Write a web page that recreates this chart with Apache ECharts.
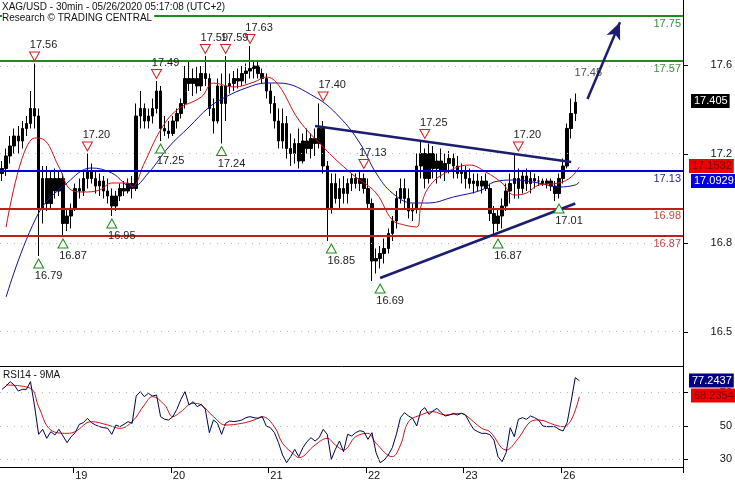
<!DOCTYPE html>
<html><head><meta charset="utf-8">
<script src="https://cdn.jsdelivr.net/npm/echarts@6/dist/echarts.min.js"></script>
<style>html,body{margin:0;padding:0;background:#fff}#c{width:735px;height:480px}</style>
</head><body><div id="c"></div>
<script>
// ---- categories (hourly slots) ----
const dayLabels = ['18','19','20','21','22','23','26',''];
const firstHour = 6;
const slotCount = 168;
const categories = Array.from({length: slotCount}, (_, i) => {
  const h = i + firstHour;
  return dayLabels[Math.floor(h / 24)] + ' ' + String(h % 24).padStart(2, '0') + ':00';
});

// ---- price bars: [open, close, low, high] ----
const priceBars = [
[17.12,17.14,17.09,17.17],[17.14,17.19,17.11,17.22],[17.19,17.23,17.16,17.27],[17.23,17.27,17.2,17.3],
[17.27,17.25,17.2,17.31],[17.25,17.3,17.22,17.33],[17.3,17.32,17.27,17.35],[17.32,17.38,17.3,17.45],
[17.38,17.35,17.3,17.56],[17.35,16.98,16.79,17.38],[16.98,17.1,16.92,17.15],[17.1,17.0,16.97,17.15],
[17.0,17.1,16.98,17.13],[17.1,17.05,17.02,17.14],[17.05,17.1,17.03,17.13],[17.1,16.92,16.87,17.12],
[16.92,16.95,16.89,16.98],[16.95,16.98,16.9,17.0],[16.98,17.06,16.97,17.08],[17.06,17.05,17.02,17.1],
[17.05,17.1,17.03,17.13],[17.1,17.13,17.06,17.2],[17.13,17.1,17.08,17.16],[17.1,17.07,17.04,17.13],
[17.07,17.09,17.03,17.12],[17.09,17.05,17.02,17.11],[17.05,17.03,17.0,17.1],[17.03,16.99,16.95,17.06],
[16.99,17.03,16.97,17.05],[17.03,17.06,17.01,17.08],[17.06,17.05,17.03,17.09],[17.05,17.08,17.04,17.1],
[17.08,17.06,17.02,17.11],[17.06,17.35,17.05,17.4],[17.35,17.38,17.3,17.45],[17.38,17.33,17.3,17.4],
[17.33,17.35,17.3,17.38],[17.35,17.38,17.32,17.42],[17.38,17.45,17.36,17.49],[17.45,17.3,17.25,17.47],
[17.3,17.29,17.27,17.35],[17.29,17.28,17.26,17.33],[17.28,17.33,17.27,17.35],[17.33,17.36,17.3,17.38],
[17.36,17.4,17.34,17.42],[17.4,17.5,17.38,17.55],[17.5,17.48,17.45,17.57],[17.48,17.5,17.43,17.54],
[17.5,17.47,17.44,17.55],[17.47,17.52,17.45,17.55],[17.52,17.5,17.47,17.59],[17.5,17.38,17.35,17.52],
[17.38,17.33,17.28,17.42],[17.33,17.47,17.32,17.5],[17.47,17.4,17.24,17.52],[17.4,17.47,17.33,17.59],
[17.47,17.48,17.44,17.52],[17.48,17.5,17.45,17.53],[17.5,17.49,17.46,17.54],[17.49,17.52,17.47,17.55],
[17.52,17.53,17.48,17.56],[17.53,17.54,17.5,17.63],[17.54,17.55,17.5,17.57],[17.55,17.52,17.5,17.57],
[17.52,17.5,17.48,17.54],[17.5,17.45,17.42,17.52],[17.45,17.4,17.36,17.48],[17.4,17.33,17.3,17.43],
[17.33,17.25,17.22,17.38],[17.25,17.32,17.22,17.38],[17.32,17.22,17.18,17.35],[17.22,17.2,17.15,17.28],
[17.2,17.24,17.16,17.26],[17.24,17.17,17.14,17.3],[17.17,17.25,17.16,17.28],[17.25,17.22,17.2,17.3],
[17.22,17.26,17.18,17.28],[17.26,17.24,17.19,17.3],[17.24,17.3,17.22,17.4],[17.3,17.15,17.12,17.33],
[17.15,16.98,16.85,17.17],[16.98,17.08,16.96,17.12],[17.08,17.02,17.0,17.12],[17.02,17.06,16.98,17.1],
[17.06,17.04,17.0,17.11],[17.04,17.08,17.0,17.1],[17.08,17.1,17.05,17.12],[17.1,17.08,17.06,17.12],
[17.08,17.1,17.05,17.13],[17.1,17.06,17.04,17.12],[17.06,17.0,16.98,17.1],[17.0,16.77,16.69,17.02],
[16.77,16.78,16.72,16.82],[16.78,16.8,16.74,16.83],[16.8,16.82,16.76,16.86],[16.82,16.88,16.8,16.9],
[16.88,16.93,16.85,16.95],[16.93,17.02,16.9,17.05],[17.02,17.06,17.0,17.1],[17.06,17.02,16.98,17.1],
[17.02,16.97,16.94,17.06],[16.97,16.98,16.93,17.0],[16.98,17.15,16.96,17.2],[17.15,17.2,17.1,17.25],
[17.2,17.1,17.06,17.22],[17.1,17.2,17.08,17.24],[17.2,17.14,17.1,17.23],[17.14,17.17,17.08,17.2],
[17.17,17.13,17.1,17.22],[17.13,17.16,17.09,17.2],[17.16,17.18,17.12,17.21],[17.18,17.15,17.1,17.2],
[17.15,17.12,17.1,17.19],[17.12,17.13,17.08,17.16],[17.13,17.1,17.06,17.15],[17.1,17.08,17.06,17.14],
[17.08,17.09,17.04,17.12],[17.09,17.07,17.05,17.12],[17.07,17.09,17.04,17.11],[17.09,17.06,17.05,17.12],
[17.06,16.96,16.93,17.08],[16.96,16.92,16.87,16.99],[16.92,16.95,16.89,16.98],[16.95,16.99,16.9,17.02],
[16.99,17.05,16.97,17.08],[17.05,17.08,17.0,17.12],[17.08,17.1,17.02,17.2],[17.1,17.06,17.02,17.14],
[17.06,17.11,17.04,17.13],[17.11,17.08,17.05,17.14],[17.08,17.1,17.04,17.13],[17.1,17.09,17.06,17.12],
[17.09,17.09,17.07,17.11],[17.09,17.08,17.07,17.1],[17.08,17.09,17.06,17.1],[17.09,17.07,17.05,17.1],
[17.07,17.04,17.01,17.09],[17.04,17.1,17.02,17.12],[17.1,17.15,17.08,17.18],[17.15,17.3,17.14,17.32],
[17.3,17.36,17.26,17.42],[17.36,17.405,17.33,17.44]
];

// ---- moving averages on price: [slot, value] ----
const fastMA = [[1,16.906],[8,17.262],[10,17.258],[14,17.146],[17,17.054],[20,17.046],[24,17.054],[27,17.082],
[31,17.082],[32,17.066],[35,17.162],[39,17.294],[43,17.374],[49,17.426],[52,17.482],[57,17.466],[62,17.486],
[65,17.506],[68,17.474],[73,17.334],[79,17.226],[83,17.162],[87,17.106],[92,17.042],[96,16.934],[99,16.914],
[102,16.906],[103,16.986],[105,17.066],[109,17.122],[115,17.154],[119,17.126],[123,17.082],[126,17.034],
[129,17.042],[132,17.074],[137,17.082],[140,17.106],[142,17.146]];
const slowMA = [[1,16.626],[9,16.962],[16,17.082],[22,17.142],[27,17.122],[32,17.066],[36,17.122],[41,17.226],
[46,17.306],[51,17.386],[55,17.426],[60,17.462],[65,17.482],[68,17.482],[77,17.426],[83,17.346],[88,17.242],
[92,17.122],[96,17.042],[101,17.002],[105,17.002],[111,17.026],[118,17.054],[121,17.086],[126,17.094],
[132,17.082],[137,17.066],[141,17.074],[142,17.086]];

// ---- RSI14 and its 9MA ----
const rsi = [72,74,76.6,74.6,71,72,72,76.6,62,45,48,42.6,46.6,44.6,48,44,40,43.6,46,51,52,54.6,52,50.6,49.6,49,48.6,45,
50.6,49.6,51,52.6,51.6,68,70.6,67.6,69.6,68,68.6,55.6,54,53.6,55.6,60,66,70.6,62.6,64.6,61.6,63,60,46,53.6,51.6,45,
51.6,53,52.6,53,53.6,55,55.6,55,54.6,55.6,50,49,46,40,32.6,28,31.6,36,31.6,37,40.6,43,41,43,48,45,30,36,41,34.6,45,
44,46,47.2,46.6,42,46,34,28,29.6,32.6,37,45,55,58,56,54.6,50,59,61,57,59,60.6,58,56,56.6,57.6,56.6,57.6,56.6,52,48,
46.6,45.6,45.6,44.8,41.6,31.6,28.6,34,49,43.6,54,55,54,56,55,53.6,50,49.6,49.6,49.6,48,47,52,65,79,77.2];
const rsiMA = [[1,74.6],[7,72.6],[9,61.6],[12,47.6],[16,45.6],[18,46.6],[22,52.6],[26,50.6],[29,48.6],[32,52.6],
[35,62.6],[37,67.6],[40,62.6],[42,55.6],[44,58.6],[47,63.6],[49,62.6],[52,55.6],[55,50.6],[59,51.6],[62,53.6],
[64,55.6],[67,49.6],[69,39.6],[72,32.6],[73,31],[77,38.6],[80,42.6],[82,38.6],[84,35.6],[87,43.6],[90,45.6],
[92,39.6],[96,31.6],[98,38.6],[100,52.6],[103,56.6],[106,58.6],[109,56.6],[113,57.6],[114,56.6],[118,48.6],
[120,46.6],[124,35.6],[127,42.6],[130,52.6],[132,53.6],[136,50.6],[138,49.6],[140,53.6],[142,67.6]];

// ---- levels, trendlines, annotations ----
const resistanceLevels = [17.75, 17.57];
const pivotLevels = [17.13];
const supportLevels = [16.98, 16.87];
const downTrend = [[77, 17.31], [140, 17.166]];
const upTrend = [[93, 16.702], [141, 17.0]];
const targetArrow = [[144, 17.418], [152, 17.725]];
const highSlots = [8, 21, 38, 50, 55, 61, 79, 89, 104, 127];
const highLabels = ['17.56','17.20','17.49','17.59','17.59','17.63','17.40','17.13','17.25','17.20'];
const targetSlots = [142];
const targetLabels = ['17.45'];
const lowSlots = [9, 15, 27, 39, 54, 81, 93, 122, 137];
const lowLabels = ['16.79','16.87','16.95','17.25','17.24','16.85','16.69','16.87','17.01'];
const priceTickValues = [17.554, 17.198, 16.842, 16.486];
const priceTickLabels = ['17.6', '17.2', '16.8', '16.5'];
const rsiTickValues = [70, 50, 30];
const priceTags = [17.405, 17.1532, 17.0929];
const rsiTags = [77.2437, 68.2354];

const FONT = 'Liberation Sans, Arial, sans-serif';
const isDayStart = (idx) => idx > 0 && (idx + firstHour) % 24 === 0 && categories[idx].split(' ')[0] !== '';
const nearestLabel = (v, vals, labels) => {
  let b = 0; vals.forEach((t, i) => { if (Math.abs(t - v) < Math.abs(vals[b] - v)) b = i; }); return labels[b];
};

const levelLine = (v, color, txt, labelColor) => ({
  yAxis: v, lineStyle: {color: color, width: 2, type: 'solid'},
  label: {show: true, position: 'insideEndBottom', formatter: txt, color: labelColor, fontSize: 11, distance: 2, fontFamily: FONT}
});
const gridLine = (v) => ({yAxis: v, lineStyle: {color: '#b8b8b8', width: 1, type: [1, 6]}, label: {show: false}});
const tagLine = (v, bg, fg, dist) => ({
  yAxis: v, lineStyle: {color: 'rgba(0,0,0,0)', width: 0},
  label: {show: true, position: 'end', formatter: String(v), backgroundColor: bg, color: fg, fontSize: 11,
    padding: [2, 2, 1, 3], distance: dist, fontFamily: FONT}
});
const trendLine = (pts) => [
  {coord: pts[0], symbol: 'none', lineStyle: {color: '#1c1c70', width: 2.5, type: 'solid'}, label: {show: false}},
  {coord: pts[1], symbol: 'none'}
];

const option = {
  animation: false,
  textStyle: {fontFamily: FONT},
  title: [
    {text: 'XAG/USD - 30min - 05/26/2020 05:17:08 (UTC+2)', left: 2, top: 2, padding: 0,
      textStyle: {fontSize: 10, fontWeight: 'normal', color: '#111', fontFamily: FONT}},
    {text: 'Research © TRADING CENTRAL', left: 2, top: 13, padding: [0, 2, 1, 0], backgroundColor: '#fff',
      textStyle: {fontSize: 10, fontWeight: 'normal', color: '#111', fontFamily: FONT}},
    {text: 'RSI14 - 9MA', left: 3, top: 370, padding: 0,
      textStyle: {fontSize: 10, fontWeight: 'normal', color: '#111', fontFamily: FONT}}
  ],
  grid: [
    {left: 0, right: 52, top: 0, height: 366, outerBoundsMode: 'none', containLabel: false},
    {left: 0, right: 52, top: 366, height: 101, outerBoundsMode: 'none', containLabel: false}
  ],
  xAxis: [
    {type: 'category', gridIndex: 0, data: categories, boundaryGap: true,
      axisLine: {show: true, lineStyle: {color: '#000', width: 1}}, axisTick: {show: false}, axisLabel: {show: false},
      splitLine: {show: false}},
    {type: 'category', gridIndex: 1, data: categories, boundaryGap: true,
      axisLine: {show: true, lineStyle: {color: '#000', width: 1}},
      axisTick: {show: true, interval: (i) => isDayStart(i), length: 6, lineStyle: {color: '#000'}},
      axisLabel: {show: true, interval: (i) => isDayStart(i), formatter: (v) => v.split(' ')[0], align: 'left',
        margin: 3, color: '#111', fontSize: 11, fontFamily: FONT},
      splitLine: {show: false}}
  ],
  yAxis: [
    {type: 'value', gridIndex: 0, position: 'right', min: 16.35, max: 17.814, scale: true,
      axisLine: {show: true, lineStyle: {color: '#000', width: 1}},
      axisTick: {show: true, customValues: priceTickValues, length: 5, lineStyle: {color: '#000'}},
      axisLabel: {show: true, customValues: priceTickValues, align: 'right', margin: 49, color: '#111', fontSize: 11,
        fontFamily: FONT, formatter: (v) => nearestLabel(v, priceTickValues, priceTickLabels)},
      splitLine: {show: false}},
    {type: 'value', gridIndex: 1, position: 'right', min: 25.4, max: 86,
      axisLine: {show: true, lineStyle: {color: '#000', width: 1}},
      axisTick: {show: true, customValues: rsiTickValues, length: 5, lineStyle: {color: '#000'}},
      axisLabel: {show: true, customValues: rsiTickValues, align: 'right', margin: 49, color: '#111', fontSize: 11,
        fontFamily: FONT, formatter: (v) => String(Math.round(v))},
      splitLine: {show: false}}
  ],
  series: [
    {type: 'line', xAxisIndex: 0, yAxisIndex: 0, data: [], silent: true,
      markLine: {silent: true, symbol: 'none', animation: false,
        data: priceTickValues.map(gridLine)}},
    {type: 'candlestick', xAxisIndex: 0, yAxisIndex: 0, data: priceBars, barWidth: 3, silent: true,
      itemStyle: {color: '#000', color0: '#000', borderColor: '#000', borderColor0: '#000', borderWidth: 1}},
    {type: 'line', xAxisIndex: 0, yAxisIndex: 0, data: slowMA, smooth: 0.4, showSymbol: false, silent: true,
      lineStyle: {color: '#1010a0', width: 1}},
    {type: 'line', xAxisIndex: 0, yAxisIndex: 0, data: fastMA, smooth: 0.4, showSymbol: false, silent: true,
      lineStyle: {color: '#d01010', width: 1},
      markLine: {silent: true, symbol: 'none', animation: false, data: [
        levelLine(resistanceLevels[0], '#1f8a1f', String(resistanceLevels[0]), '#3a8f3a'),
        levelLine(resistanceLevels[1], '#1f8a1f', String(resistanceLevels[1]), '#3a8f3a'),
        levelLine(pivotLevels[0], '#0000c8', String(pivotLevels[0]), '#2a2a8a'),
        levelLine(supportLevels[0], '#c0201c', String(supportLevels[0]), '#cc4444'),
        levelLine(supportLevels[1], '#c0201c', String(supportLevels[1]), '#cc4444'),
        trendLine(downTrend),
        trendLine(upTrend),
        [{coord: targetArrow[0], symbol: 'none', lineStyle: {color: '#1c1c70', width: 2.5, type: 'solid'}, label: {show: false}},
         {coord: targetArrow[1], symbol: 'arrow', symbolSize: [11, 17]}],
        tagLine(priceTags[0], '#000', '#fff', 8),
        tagLine(priceTags[1], '#ee0000', '#7a0000', 6),
        tagLine(priceTags[2], '#0000e0', '#fff', 8)
      ]}},
    {type: 'scatter', xAxisIndex: 0, yAxisIndex: 0, silent: true,
      data: highSlots.map((s, i) => [s, parseFloat(highLabels[i])]),
      symbol: 'path://M0,0L10,0L5,9Z', symbolSize: [10, 9], symbolOffset: [0, -7],
      itemStyle: {color: '#fff', borderColor: '#d42020', borderWidth: 1, opacity: 1},
      label: {show: true, position: 'top', distance: 1, offset: [9, 0], color: '#222', fontSize: 11, fontFamily: FONT,
        formatter: (p) => highLabels[p.dataIndex]}, z: 5},
    {type: 'scatter', xAxisIndex: 0, yAxisIndex: 0, silent: true,
      data: targetSlots.map((s, i) => [s, parseFloat(targetLabels[i])]),
      symbol: 'rect', symbolSize: [10, 9], symbolOffset: [0, -7],
      itemStyle: {color: 'rgba(0,0,0,0)'},
      label: {show: true, position: 'top', distance: 1, offset: [9, 0], color: '#222', fontSize: 11, fontFamily: FONT,
        formatter: (p) => targetLabels[p.dataIndex]}, z: 5},
    {type: 'scatter', xAxisIndex: 0, yAxisIndex: 0, silent: true,
      data: lowSlots.map((s, i) => [s, parseFloat(lowLabels[i])]),
      symbol: 'path://M5,0L10,9L0,9Z', symbolSize: [10, 9], symbolOffset: [0, 7.5],
      itemStyle: {color: '#fff', borderColor: '#1a8a1a', borderWidth: 1, opacity: 1},
      label: {show: true, position: 'bottom', distance: 2, offset: [10, 0], color: '#222', fontSize: 11, fontFamily: FONT,
        formatter: (p) => lowLabels[p.dataIndex]}, z: 5},
    {type: 'line', xAxisIndex: 1, yAxisIndex: 1, data: rsiMA, smooth: 0.4, showSymbol: false, silent: true,
      lineStyle: {color: '#d01010', width: 1},
      markLine: {silent: true, symbol: 'none', animation: false, data: rsiTickValues.map(gridLine)}},
    {type: 'line', xAxisIndex: 1, yAxisIndex: 1, data: rsi, showSymbol: false, silent: true,
      lineStyle: {color: '#000050', width: 1},
      markLine: {silent: true, symbol: 'none', animation: false, data: [
        tagLine(rsiTags[0], '#000080', '#fff', 6),
        tagLine(rsiTags[1], '#ee0000', '#7a0000', 8)
      ]}}
  ]
};
const chart = echarts.init(document.getElementById('c'), null, {renderer: 'canvas'});
chart.setOption(option);
</script></body></html>
